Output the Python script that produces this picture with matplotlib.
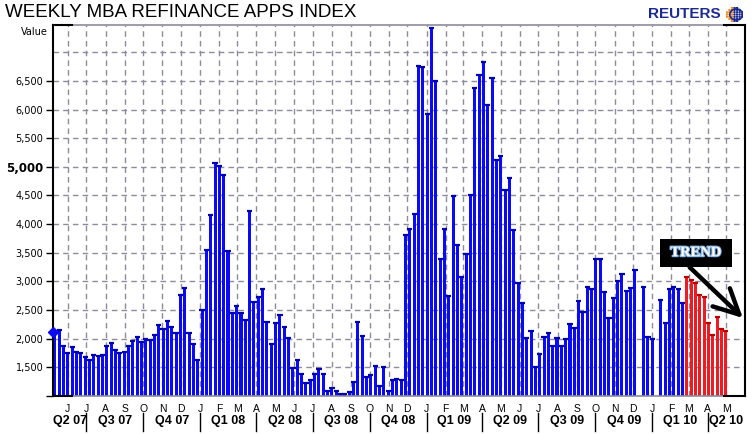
import numpy as np
import pandas as pd
import matplotlib
matplotlib.use("Agg")
import matplotlib.pyplot as plt
import matplotlib.patheffects as pe
from matplotlib.patches import Rectangle, Circle
import matplotlib.transforms as mtransforms

# weekly index, first week ending 2007-05-11 (NaN = no bar)
start_week = "2007-05-11"
values = [
    2120, 2150, 1875, 1755, 1858, 1772, 1743, 1685, 1634, 1720,
    1703, 1720, 1876, 1927, 1806, 1743, 1772, 1876, 1962, 2037,
    1945, 1997, 1985, 2071, 2244, 2169, 2308, 2204, 2106, 2763,
    2878, 2100, 1916, 1634, 2500, 3555, 4162, 5072, 5020, 4865,
    3523, 2446, 2567, 2446, 2325, 4226, 2636, 2722, 2860, 2290,
    1910, 2273, 2411, 2204, 2014, 1495, 1634, 1392, 1219, 1271,
    1392, 1478, 1392, 1081, 1132, 1081, 1040, 1040, 1063, 1236,
    2290, 2048, 1340, 1360, 1515, 1170, 1512, 1087, 1279, 1303,
    1279, 3811, 3916, 4178, 6762, 6739, 5924, 7431, 6506, 3392,
    3916, 2746, 4498, 3636, 3078, 3479, 4515, 6384, 6605, 6837,
    6081, 6553, 5121, 5190, 4597, 4806, 3898, 2973, 2624, 2013,
    2135, 1506, 1733, 2030, 2100, 1873, 2013, 1873, 1995, 2252,
    2182, 2656, 2463, 2901, 2866, 3393, 3393, 2814, 2357, 2708,
    3007, 3129, 2831, 2884, 3200, np.nan, 2900, 2024, 1995, np.nan,
    2670, 2270, 2870, 2895, 2868, 2620, 3077, 3018, 2975, 2760,
    2726, 2270, 2060, 2375, 2167, 2129,
]
n_red = 10  # last weeks drawn in red

y_ticks = [1000, 1500, 2000, 2500, 3000, 3500, 4000, 4500, 5000, 5500, 6000, 6500, 7000]
quarters = ["Q2 07", "Q3 07", "Q4 07", "Q1 08", "Q2 08", "Q3 08", "Q4 08",
            "Q1 09", "Q2 09", "Q3 09", "Q4 09", "Q1 10", "Q2 10"]

BLUE = "#0a0af5"
BLUE_CAP = "#0000a8"
RED = "#ec1c24"
RED_CAP = "#b40000"
GRID = "#8c8c9c"

vals = np.array(values, dtype=float)
dates = pd.date_range(start_week, periods=len(vals), freq="7D")
x0 = pd.Timestamp("2007-05-08")
x1 = pd.Timestamp("2010-05-31")

fig = plt.figure(figsize=(7.56, 4.34), dpi=100)
ax = fig.add_axes([53 / 756, 1 - 396 / 434, 692 / 756, 371.3 / 434])

colors = [BLUE] * (len(vals) - n_red) + [RED] * n_red
caps = [BLUE_CAP] * (len(vals) - n_red) + [RED_CAP] * n_red
ok = ~np.isnan(vals)
ax.bar(dates[ok], vals[ok] - 1000, bottom=1000, width=4.9,
       color=np.array(colors)[ok], linewidth=0, zorder=2)
ax.scatter(dates[ok], vals[ok], marker="_", s=14, linewidths=1.6,
           c=np.array(caps)[ok], zorder=3)

ax.set_xlim(x0, x1)
ax.set_ylim(1000, 7480)
ax.set_axisbelow(True)
ax.grid(True, color=GRID, linestyle=(0, (4, 3)), linewidth=1)

# y axis
ax.set_yticks(y_ticks)
ax.set_yticklabels(["" if v in (1000, 7000) else f"{v:,}" for v in y_ticks],
                   fontsize=7, family="DejaVu Sans")
ax.tick_params(axis="y", direction="out", length=5, width=1, color="black", pad=2)
ax.yaxis.get_major_ticks()[-1].tick1line.set_visible(False)
for lab in ax.get_yticklabels():
    if lab.get_text() == "5,000":
        lab.set_fontweight("bold")
        lab.set_fontsize(8.5)

# month ticks
months = pd.date_range("2007-06-01", "2010-05-01", freq="MS")
ax.set_xticks(months)
ax.set_xticklabels([m.strftime("%b")[0] for m in months], fontsize=7.5,
                   family="Liberation Sans")
ax.tick_params(axis="x", length=0, pad=6)

# quarter labels and separators
trans = mtransforms.blended_transform_factory(ax.transData, ax.transAxes)
q_starts = pd.date_range("2007-04-01", periods=len(quarters) + 1, freq="QS")
for i, q in enumerate(quarters):
    a = max(q_starts[i], x0)
    b = min(q_starts[i + 1], x1)
    mid = a + (b - a) / 2
    ax.text(mid, -0.066, q, transform=trans, ha="center", va="center",
            fontsize=9, fontweight="bold", family="Liberation Sans")
for d in q_starts[1:-1]:
    ax.plot([d, d], [-0.046, -0.094], transform=trans, color="black",
            lw=1, clip_on=False)

# frame
for s in ("left", "right"):
    ax.spines[s].set_color("black")
    ax.spines[s].set_linewidth(1.5)
for s in ("top", "bottom"):
    ax.spines[s].set_color(GRID)
    ax.spines[s].set_linewidth(1.2)
for (xa, xb, yy) in [(0, 0.028, 1), (0.97, 1, 1), (0, 0.028, 0), (0.97, 1, 0)]:
    ax.plot([xa, xb], [yy, yy], transform=ax.transAxes, color="black",
            lw=1.5, clip_on=False, zorder=6)

# diamond marker at the start value
ax.plot([x0], [vals[0]], marker="D", ms=5.5, color=BLUE, clip_on=False, zorder=6)

# TREND box and arrow
ax.add_patch(Rectangle((0.877, 0.347), 0.104, 0.076, transform=ax.transAxes,
                       facecolor="black", edgecolor="none", zorder=7, clip_on=False))
ax.text(0.929, 0.386, "TREND", transform=ax.transAxes, ha="center", va="center",
        color="white", fontsize=10.5, fontweight="bold", family="Liberation Serif",
        zorder=8, path_effects=[pe.withStroke(linewidth=1.5, foreground="#7fb0e0")])
ax.annotate("", xy=(0.997, 0.21), xytext=(0.92, 0.347),
            xycoords="axes fraction", textcoords="axes fraction",
            arrowprops=dict(arrowstyle="->,head_length=0.9,head_width=0.45",
                            mutation_scale=20, lw=3.2, color="black",
                            shrinkA=0, shrinkB=0),
            annotation_clip=False, zorder=8)

# titles
fig.text(5 / 756, 1 - 12.5 / 434, "WEEKLY MBA REFINANCE APPS INDEX",
         fontsize=13.5, family="Liberation Sans", va="center", ha="left")
fig.text(21 / 756, 1 - 32 / 434, "Value", fontsize=7, family="DejaVu Sans",
         va="center", ha="left")
fig.text(721 / 756, 1 - 13.5 / 434, "REUTERS", fontsize=11, fontweight="bold",
         family="Liberation Sans", color="#1c2a8c", va="center", ha="right")

# small globe logo
gax = fig.add_axes([726 / 756, 1 - 22 / 434, 17 / 756, 15 / 434])
gax.set_xlim(-1, 1)
gax.set_ylim(-1, 1)
gax.axis("off")
gx, gy = np.meshgrid(np.linspace(-0.9, 0.9, 7), np.linspace(-0.9, 0.9, 7))
inside = gx ** 2 + gy ** 2 <= 1.0
gcol = np.where(gx < -0.1, "#f08a1e", "#1c2a8c")
gax.scatter(gx[inside], gy[inside], s=3, c=gcol[inside], linewidths=0)
gax.add_patch(Circle((0.2, 0), 0.75, fill=False, edgecolor="#1c2a8c", lw=1.2))

fig.savefig("out.png", dpi=100)
